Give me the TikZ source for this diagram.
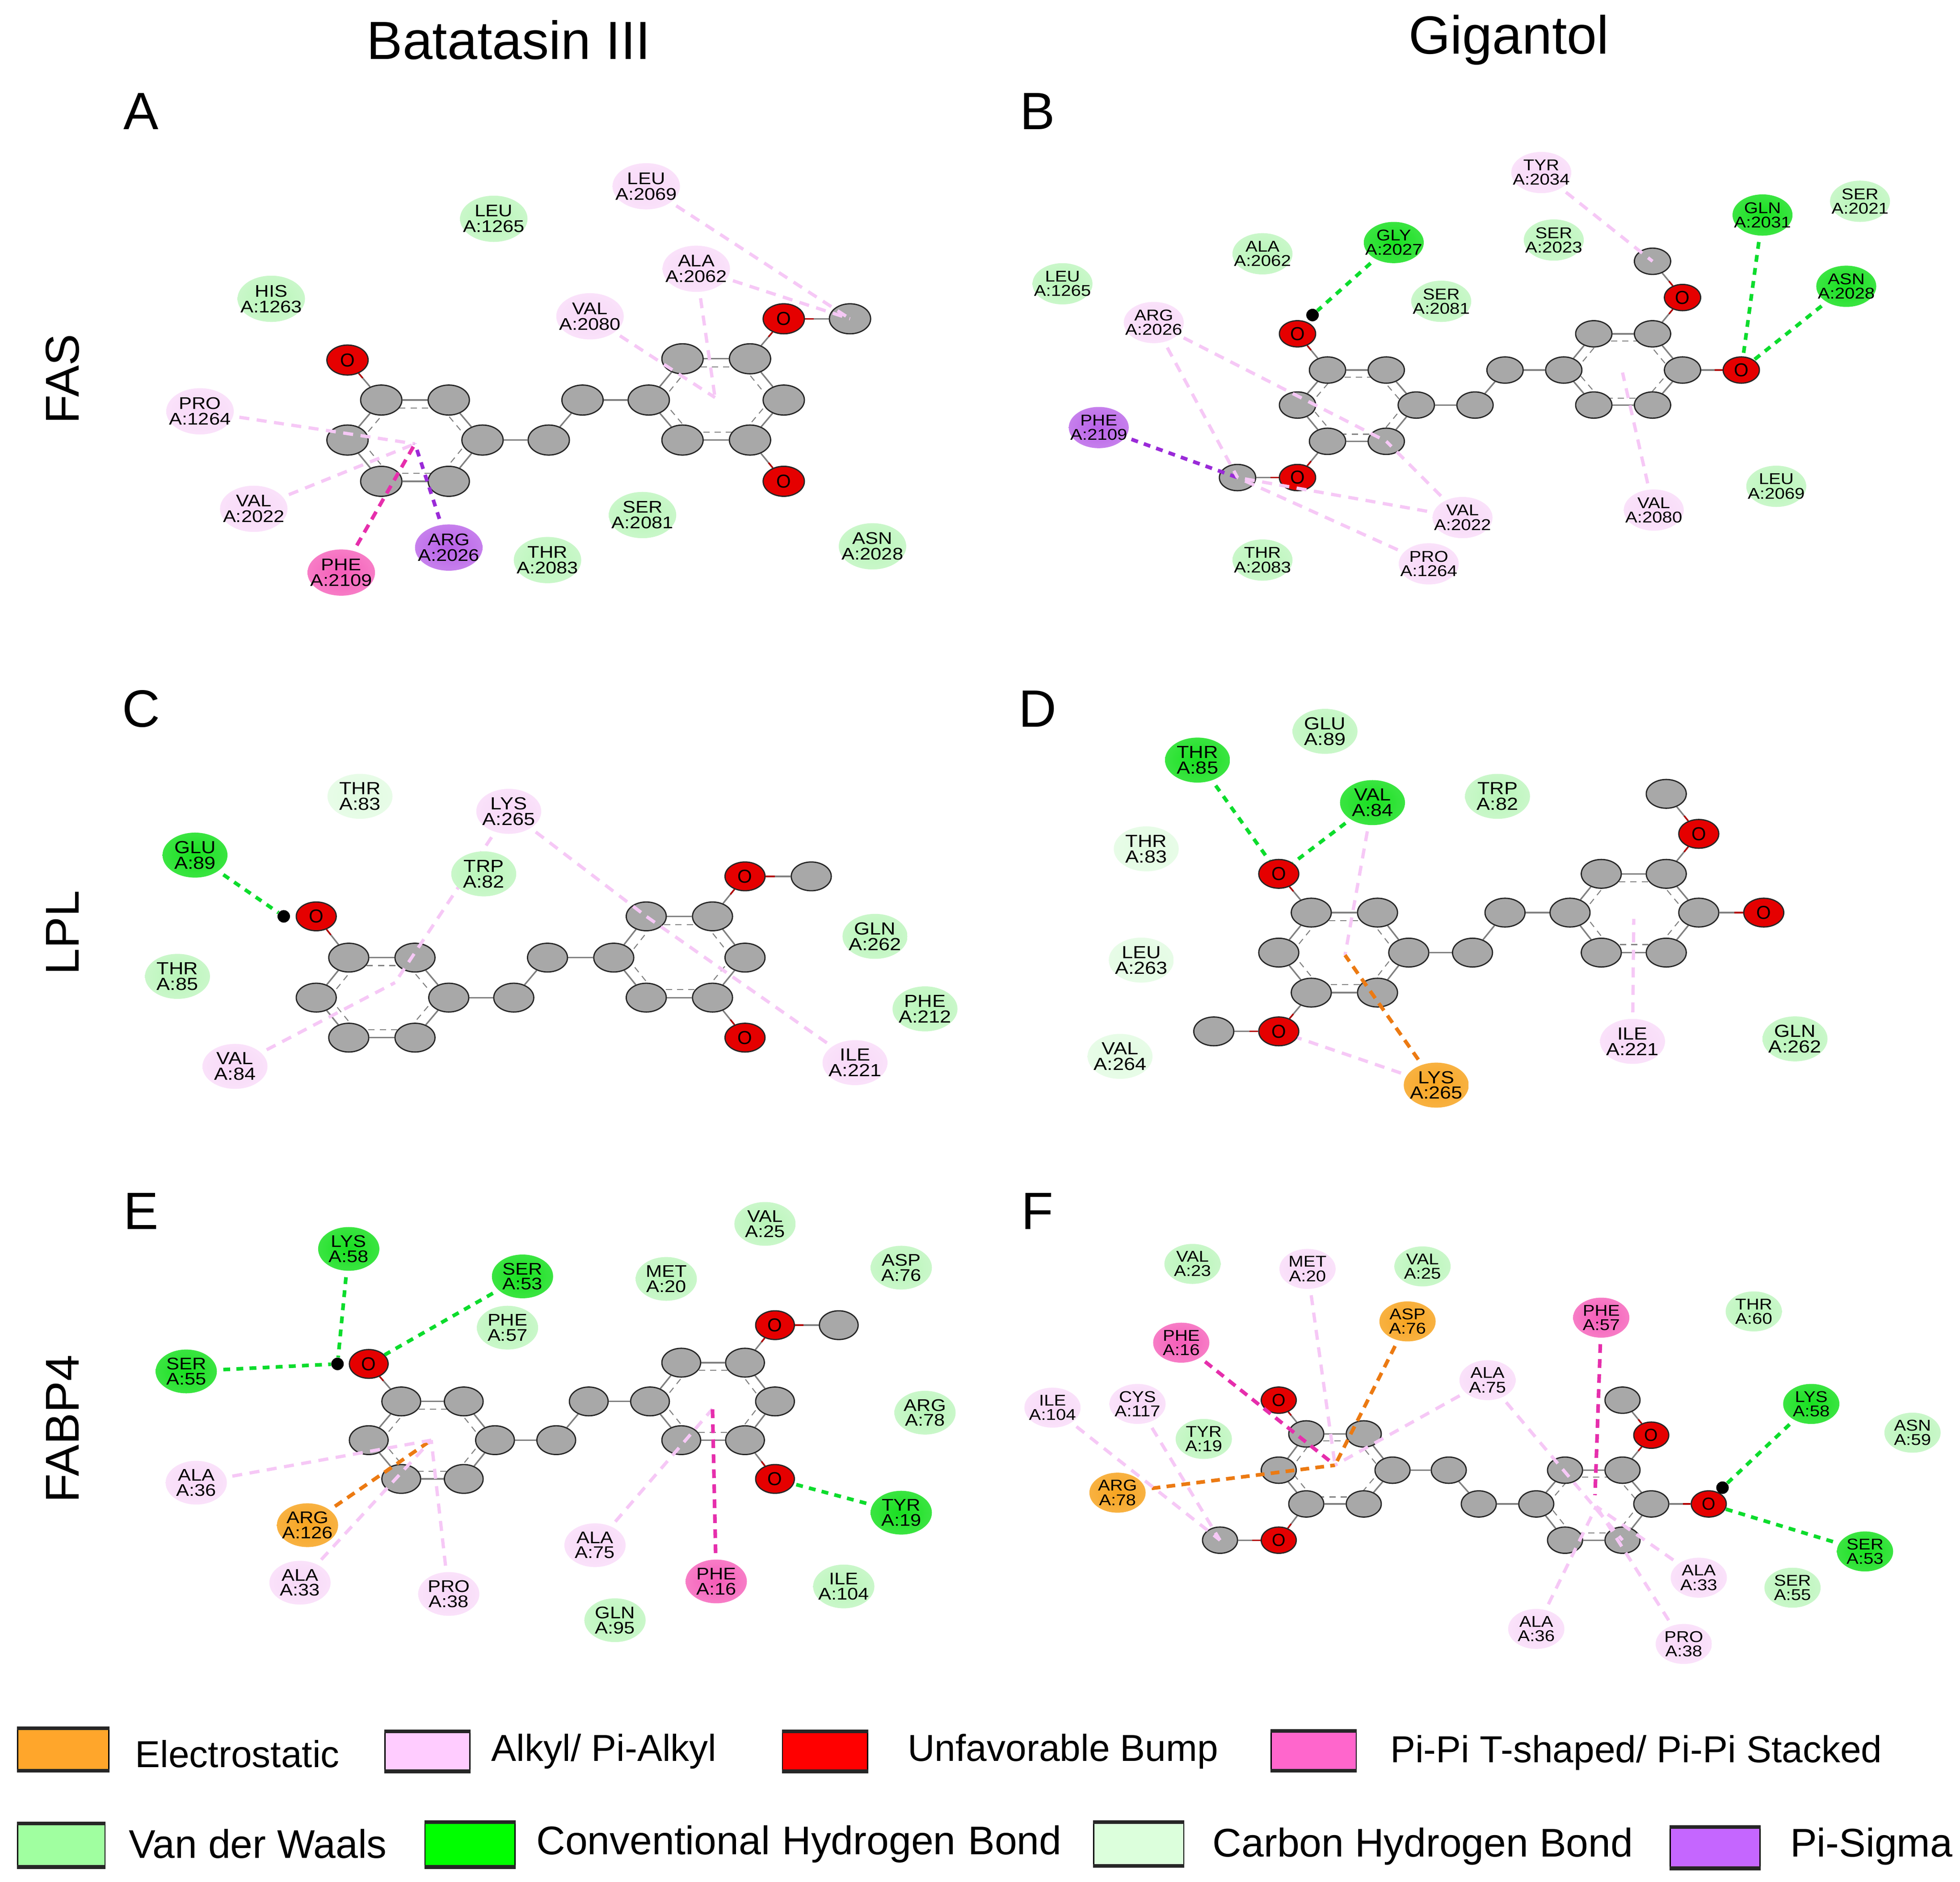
\documentclass[tikz,border=0pt]{standalone}
\usepackage{fontspec}
\setmainfont{Liberation Sans}
\newfontfamily\resf[FakeStretch=1.15]{Liberation Sans}
\usetikzlibrary{calc,shapes.geometric,backgrounds}
\definecolor{cVdw}{HTML}{B8F5B8}
\definecolor{cHb}{HTML}{18E020}
\definecolor{cChb}{HTML}{E0FBE0}
\definecolor{cAlk}{HTML}{F8D8F8}
\definecolor{cPipi}{HTML}{F55CB8}
\definecolor{cSig}{HTML}{B860E8}
\definecolor{cEl}{HTML}{F7A420}
\definecolor{lAlk}{HTML}{F6C8F6}
\definecolor{lHb}{HTML}{0CDC2C}
\definecolor{lSig}{HTML}{9A2AD8}
\definecolor{lPipi}{HTML}{E62EAC}
\definecolor{lEl}{HTML}{EC7A12}
\definecolor{kEl}{HTML}{FFA62B}
\definecolor{kAlk}{HTML}{FFCCFF}
\definecolor{kPipi}{HTML}{FF66CC}
\definecolor{kVdw}{HTML}{A0FFA0}
\definecolor{kChb}{HTML}{DCFFDC}
\definecolor{kSig}{HTML}{C566FF}
\def\aw{32pt}\def\ah{24pt}\def\rw{54pt}\def\rh{38pt}
\def\resfont{\resf\fontsize{13.5}{12.5}\selectfont}
\def\ofont{\fontsize{15}{15}\selectfont}
\tikzset{
 res/.style={ellipse,inner xsep=-16pt,inner ysep=-8pt,minimum width=\rw,minimum height=\rh,align=center,font=\resfont,text=black},
 vdw/.style={res,inner color=cVdw,outer color=cVdw!75!white},
 hb/.style={res,inner color=cHb,outer color=cHb!85!white},
 chb/.style={res,inner color=cChb,outer color=cChb!75!white},
 alk/.style={res,inner color=cAlk,outer color=cAlk!75!white},
 pipi/.style={res,inner color=cPipi,outer color=cPipi!80!white},
 sig/.style={res,inner color=cSig,outer color=cSig!80!white},
 elec/.style={res,inner color=cEl,outer color=cEl!85!white},
 carbon/.style={ellipse,draw=black!85,line width=1pt,fill=black!34,inner sep=0pt,minimum width=\aw,minimum height=\ah},
 oxy/.style={ellipse,draw=black!85,line width=1pt,fill=red!90!black,inner sep=0pt,minimum width=\aw,minimum height=\ah,font=\ofont},
 hdot/.style={circle,fill=black,inner sep=0pt,minimum size=10pt},
 bond/.style={draw=black!50,line width=1.2pt},
 obond/.style={draw=red!70!black,line width=1.2pt},
 inner/.style={draw=black!50,line width=.8pt,dash pattern=on 5pt off 4pt},
 ix/.style={line width=2.6pt,shorten <=5pt},
 ixa/.style={ix,draw=lAlk,dash pattern=on 8pt off 6pt},
 ixh/.style={ix,draw=lHb,line width=2.9pt,dash pattern=on 5.5pt off 5pt},
 ixs/.style={ix,draw=lSig,line width=2.9pt,dash pattern=on 5.5pt off 5pt},
 ixp/.style={ix,draw=lPipi,line width=2.9pt,dash pattern=on 7pt off 5pt},
 ixe/.style={ix,draw=lEl,line width=2.9pt,dash pattern=on 7pt off 5pt},
 title/.style={font=\fontsize{43}{43}\selectfont,inner sep=0pt},
 letter/.style={font=\fontsize{42}{42}\selectfont,inner sep=0pt},
 rowlab/.style={font=\fontsize{38}{38}\selectfont,inner sep=0pt,rotate=90},
 legbox/.style={draw=black,line width=1pt,inner sep=0pt,minimum width=68pt,minimum height=31pt},
 legtxt/.style={font=\fontsize{30}{30}\selectfont,inner sep=0pt,anchor=west},
 legtxtb/.style={font=\fontsize{32}{32}\selectfont,inner sep=0pt,anchor=west},
}
\newcommand\Res[6]{\node[#2] (#1) at (#3,#4) {#5\\#6};}
\newcommand\Oat[3]{\node[oxy] (#1) at (#2,#3) {O};}
\newcommand\Hdot[3]{\node[hdot] (#1) at (#2,#3) {};}
\newcommand\RB[3]{\draw[bond] (#1) -- (#2); \draw[inner] ($(#1)!.2!(#3)$) -- ($(#2)!.2!(#3)$);}
\newcommand\Ring[6]{\coordinate (rc) at ($(#1)!.5!(#4)$);
 \RB{#1}{#2}{rc}\RB{#2}{#3}{rc}\RB{#3}{#4}{rc}\RB{#4}{#5}{rc}\RB{#5}{#6}{rc}\RB{#6}{#1}{rc}}
\newcommand\CO[2]{\draw[bond] (#1) -- (#2); \draw[obond] ($(#1)!.55!(#2)$) -- (#2);}
\newcommand\Atoms[1]{\foreach \nm/\X/\Y in {#1}{\node[carbon] (\nm) at (\X,\Y) {};}}
\begin{document}
\begin{tikzpicture}[x=1pt,y=-1pt]
\useasboundingbox (0,0) rectangle (1568,1505.4);
\begin{scope}[on background layer]
\fill[white] (0,0) rectangle (1568,1505.4);
\end{scope}
\node[title] (t1) at (407,32) {Batatasin III};
\node[title] (t2) at (1207,32) {Gigantol};
\node[letter] (la) at (113,89) {A};
\node[letter] (lb) at (830,89) {B};
\node[letter] (lc) at (113,567) {C};
\node[letter] (ld) at (830,567) {D};
\node[letter] (le) at (113,969) {E};
\node[letter] (lf) at (830,969) {F};
\node[rowlab] (r1) at (50,303) {FAS};
\node[rowlab] (r2) at (50,746) {LPL};
\node[rowlab] (r3) at (50,1143) {FABP4};
% ---------- A
\begin{scope}
\def\aw{33pt}\def\ah{24pt}\def\rw{54pt}\def\rh{37pt}
\Res{A1}{alk}{517}{149}{LEU}{A:2069}
\Res{A2}{vdw}{395}{175}{LEU}{A:1265}
\Res{A3}{vdw}{217}{239}{HIS}{A:1263}
\Res{A4}{alk}{557}{215}{ALA}{A:2062}
\Res{A5}{alk}{472}{253}{VAL}{A:2080}
\Res{A6}{alk}{160}{329}{PRO}{A:1264}
\Res{A7}{alk}{203}{407}{VAL}{A:2022}
\Res{A8}{pipi}{273}{458}{PHE}{A:2109}
\Res{A9}{sig}{359}{438}{ARG}{A:2026}
\Res{A10}{vdw}{438}{448}{THR}{A:2083}
\Res{A11}{vdw}{514}{412}{SER}{A:2081}
\Res{A12}{vdw}{698}{437}{ASN}{A:2028}
\Atoms{aa/305/320,ab/359/320,ac/278/352,ad/386/352,ae/305/385,af/359/385,am/439/352,an/466/320,ag/519/320,ah/546/287,ai/600/287,aj/627/320,ak/600/352,al/546/352,aMe/680/255}
\Oat{aO1}{278}{288}\Oat{aO2}{627}{255}\Oat{aO3}{627}{385}
\coordinate (actr) at (332,355);
\coordinate (actr2) at (572,318);
\begin{scope}[on background layer]
\Ring{aa}{ab}{ad}{af}{ae}{ac}\Ring{ag}{ah}{ai}{aj}{ak}{al}
\draw[bond](ad)--(am);\draw[bond](am)--(an);\draw[bond](an)--(ag);
\CO{aa}{aO1}\CO{ai}{aO2}\CO{aMe}{aO2}\CO{ak}{aO3}
\end{scope}
\draw[ixa](A1)--(aMe.center);\draw[ixa](A4)--(aMe.center);\draw[ixa](A4)--(actr2);\draw[ixa](A5)--(actr2);
\draw[ixa](A6)--(actr);\draw[ixa](A7)--(actr);\draw[ixp](A8)--(actr);\draw[ixs](A9)--(actr);
\end{scope}
% ---------- B
\begin{scope}
\def\aw{29pt}\def\ah{21pt}\def\rw{48pt}\def\rh{33pt}
\def\resfont{\resf\fontsize{12.5}{11.5}\selectfont}
\Res{B1}{alk}{1233}{138}{TYR}{A:2034}
\Res{B2}{hb}{1410}{172}{GLN}{A:2031}
\Res{B3}{vdw}{1488}{161}{SER}{A:2021}
\Res{B4}{hb}{1115}{194}{GLY}{A:2027}
\Res{B5}{vdw}{1243}{192}{SER}{A:2023}
\Res{B6}{vdw}{1010}{203}{ALA}{A:2062}
\Res{B7}{hb}{1477}{229}{ASN}{A:2028}
\Res{B8}{vdw}{850}{227}{LEU}{A:1265}
\Res{B9}{vdw}{1153}{241}{SER}{A:2081}
\Res{B10}{alk}{923}{258}{ARG}{A:2026}
\Res{B11}{sig}{879}{342}{PHE}{A:2109}
\Res{B12}{vdw}{1421}{389}{LEU}{A:2069}
\Res{B13}{alk}{1323}{408}{VAL}{A:2080}
\Res{B14}{alk}{1170}{414}{VAL}{A:2022}
\Res{B15}{alk}{1143}{451}{PRO}{A:1264}
\Res{B16}{vdw}{1010}{448}{THR}{A:2083}
\Atoms{ba/1062/296,bb/1109/296,bc/1038/324,bd/1133/324,be/1062/353,bf/1109/353,bm/1180/324,bn/1204/296,bg/1251/296,bh/1275/267,bi/1322/267,bj/1346/296,bk/1322/324,bl/1275/324,bMe/990/382,bMf/1322/209}
\Oat{bO1}{1038}{267}\Oat{bO2}{1038}{382}\Oat{bO3}{1346}{238}\Oat{bO4}{1393}{296}
\Hdot{bH}{1050}{252}
\coordinate (bctr2) at (1298,298);
\begin{scope}[on background layer]
\Ring{ba}{bb}{bd}{bf}{be}{bc}\Ring{bg}{bh}{bi}{bj}{bk}{bl}
\draw[bond](bd)--(bm);\draw[bond](bm)--(bn);\draw[bond](bn)--(bg);
\CO{ba}{bO1}\CO{be}{bO2}\CO{bMe}{bO2}\CO{bi}{bO3}\CO{bMf}{bO3}\CO{bj}{bO4}
\end{scope}
\draw[ixa](B1)--(bMf.center);\draw[ixh](B2)--(bO4);\draw[ixh](B7)--(bO4);\draw[ixh](B4)--(bH);
\draw[ixs](B11)--(bMe.center);\draw[ixa](B10)--(bMe.center);\draw[ixa](B10)--(bf.center);\draw[ixa](B14)--(bf.center);
\draw[ixa](B15)--(bMe.center);\draw[ixa](B14)--(bMe.center);\draw[ixa](B13)--(bctr2);
\end{scope}
% ---------- C
\begin{scope}
\def\aw{32pt}\def\ah{23pt}\def\rw{52pt}\def\rh{36pt}
\def\resfont{\resf\fontsize{14}{12.5}\selectfont}
\Res{C1}{chb}{288}{637}{THR}{A:83}
\Res{C2}{alk}{407}{649}{LYS}{A:265}
\Res{C3}{hb}{156}{684}{GLU}{A:89}
\Res{C5}{vdw}{700}{749}{GLN}{A:262}
\Res{C6}{vdw}{142}{781}{THR}{A:85}
\Res{C7}{vdw}{740}{807}{PHE}{A:212}
\Res{C8}{alk}{188}{853}{VAL}{A:84}
\Res{C9}{alk}{684}{850}{ILE}{A:221}
\Atoms{ca/279/766,cb/332/766,cc/253/798,cd/359/798,ce/279/830,cf/332/830,cm/411/798,cn/438/766,cg/491/766,ch/517/733,ci/570/733,cj/596/766,ck/570/798,cl/517/798,cMe/649/701}
\Oat{cO1}{253}{733}\Oat{cO2}{596}{701}\Oat{cO3}{596}{830}
\Hdot{cH}{227}{733}
\coordinate (cctr) at (316,786);
\begin{scope}[on background layer]
\Ring{ca}{cb}{cd}{cf}{ce}{cc}\Ring{cg}{ch}{ci}{cj}{ck}{cl}
\draw[bond](cd)--(cm);\draw[bond](cm)--(cn);\draw[bond](cn)--(cg);
\CO{ca}{cO1}\CO{ci}{cO2}\CO{cMe}{cO2}\CO{ck}{cO3}
\end{scope}
\draw[ixh](C3)--(cH);\draw[ixa](C2)--(cctr);\draw[ixa](C8)--(cctr);
\draw[ixa](C2)--(ch.center);\draw[ixa](C9)--(ch.center);
\Res{C4}{vdw}{387}{699}{TRP}{A:82}
\end{scope}
% ---------- D
\begin{scope}
\def\aw{32pt}\def\ah{23pt}\def\rw{52pt}\def\rh{36pt}
\def\resfont{\resf\fontsize{14}{12.5}\selectfont}
\Res{D1}{hb}{958}{608}{THR}{A:85}
\Res{D2}{vdw}{1060}{585}{GLU}{A:89}
\Res{D3}{hb}{1098}{642}{VAL}{A:84}
\Res{D4}{vdw}{1198}{637}{TRP}{A:82}
\Res{D5}{chb}{917}{679}{THR}{A:83}
\Res{D6}{chb}{913}{768}{LEU}{A:263}
\Res{D7}{chb}{896}{845}{VAL}{A:264}
\Res{D8}{elec}{1149}{868}{LYS}{A:265}
\Res{D9}{alk}{1306}{833}{ILE}{A:221}
\Res{D10}{vdw}{1436}{831}{GLN}{A:262}
\Atoms{da/1049/730,db/1102/730,dc/1023/762,dd/1127/762,de/1049/794,df/1102/794,dm/1178/762,dn/1204/730,dg/1256/730,dh/1281/699,di/1333/699,dj/1359/730,dk/1333/762,dl/1281/762,dMe/971/825,dMf/1333/635}
\Oat{dO1}{1023}{699}\Oat{dO2}{1023}{825}\Oat{dO3}{1359}{667}\Oat{dO4}{1411}{730}
\coordinate (dctr) at (1076,764);
\coordinate (dctr2) at (1307,735);
\begin{scope}[on background layer]
\Ring{da}{db}{dd}{df}{de}{dc}\Ring{dg}{dh}{di}{dj}{dk}{dl}
\draw[bond](dd)--(dm);\draw[bond](dm)--(dn);\draw[bond](dn)--(dg);
\CO{da}{dO1}\CO{de}{dO2}\CO{dMe}{dO2}\CO{di}{dO3}\CO{dMf}{dO3}\CO{dj}{dO4}
\end{scope}
\draw[ixh](D1)--(dO1);\draw[ixh](D3)--(dO1);\draw[ixa](D3)--(dctr);
\draw[ixe](D8)--(dctr);\draw[ixa](D8)--(dO2);\draw[ixa](D9)--(dctr2);
\end{scope}
% ---------- E
\begin{scope}
\def\aw{31pt}\def\ah{23pt}\def\rw{49pt}\def\rh{35pt}
\def\resfont{\resf\fontsize{13.5}{12}\selectfont}
\Res{E1}{hb}{279}{999}{LYS}{A:58}
\Res{E2}{hb}{418}{1021}{SER}{A:53}
\Res{E3}{vdw}{612}{979}{VAL}{A:25}
\Res{E4}{vdw}{721}{1014}{ASP}{A:76}
\Res{E5}{vdw}{533}{1023}{MET}{A:20}
\Res{E6}{vdw}{406}{1062}{PHE}{A:57}
\Res{E7}{hb}{149}{1097}{SER}{A:55}
\Res{E8}{vdw}{740}{1130}{ARG}{A:78}
\Res{E9}{alk}{157}{1186}{ALA}{A:36}
\Res{E10}{elec}{246}{1220}{ARG}{A:126}
\Res{E11}{hb}{721}{1210}{TYR}{A:19}
\Res{E12}{alk}{240}{1266}{ALA}{A:33}
\Res{E13}{alk}{359}{1275}{PRO}{A:38}
\Res{E14}{alk}{476}{1236}{ALA}{A:75}
\Res{E15}{pipi}{573}{1265}{PHE}{A:16}
\Res{E16}{vdw}{675}{1269}{ILE}{A:104}
\Res{E17}{vdw}{492}{1296}{GLN}{A:95}
\Atoms{ea/321/1121,eb/371/1121,ec/295/1152,ed/396/1152,ee/321/1183,ef/371/1183,em/445/1152,en/471/1121,eg/520/1121,eh/545/1090,ei/596/1090,ej/620/1121,ek/596/1152,el/545/1152,eMe/671/1060}
\Oat{eO1}{295}{1091}\Oat{eO2}{620}{1060}\Oat{eO3}{620}{1183}
\Hdot{eH}{270}{1091}
\coordinate (ectr) at (345,1152);
\coordinate (ectr2) at (570,1127);
\begin{scope}[on background layer]
\Ring{ea}{eb}{ed}{ef}{ee}{ec}\Ring{eg}{eh}{ei}{ej}{ek}{el}
\draw[bond](ed)--(em);\draw[bond](em)--(en);\draw[bond](en)--(eg);
\CO{ea}{eO1}\CO{ei}{eO2}\CO{eMe}{eO2}\CO{ek}{eO3}
\end{scope}
\draw[ixh](E1)--(eH);\draw[ixh](E7)--(eH);\draw[ixh](E2)--(eO1);\draw[ixh](E11)--(eO3);
\draw[ixe](E10)--(ectr);\draw[ixa](E9)--(ectr);\draw[ixa](E12)--(ectr);\draw[ixa](E13)--(ectr);
\draw[ixa](E14)--(ectr2);\draw[ixp](E15)--(ectr2);
\end{scope}
% ---------- F
\begin{scope}
\def\aw{28pt}\def\ah{21pt}\def\rw{45pt}\def\rh{32pt}
\def\resfont{\resf\fontsize{12.5}{11.5}\selectfont}
\def\ofont{\fontsize{14}{14}\selectfont}
\Res{F1}{vdw}{954}{1011}{VAL}{A:23}
\Res{F2}{alk}{1046}{1015}{MET}{A:20}
\Res{F3}{vdw}{1138}{1013}{VAL}{A:25}
\Res{F4}{elec}{1126}{1057}{ASP}{A:76}
\Res{F5}{pipi}{1281}{1054}{PHE}{A:57}
\Res{F6}{vdw}{1403}{1049}{THR}{A:60}
\Res{F7}{pipi}{945}{1074}{PHE}{A:16}
\Res{F8}{alk}{1190}{1104}{ALA}{A:75}
\Res{F9}{alk}{842}{1126}{ILE}{A:104}
\Res{F10}{alk}{910}{1123}{CYS}{A:117}
\Res{F11}{vdw}{963}{1151}{TYR}{A:19}
\Res{F12}{hb}{1449}{1123}{LYS}{A:58}
\Res{F13}{vdw}{1530}{1146}{ASN}{A:59}
\Res{F14}{elec}{894}{1194}{ARG}{A:78}
\Res{F15}{hb}{1492}{1241}{SER}{A:53}
\Res{F16}{alk}{1359}{1262}{ALA}{A:33}
\Res{F17}{vdw}{1434}{1270}{SER}{A:55}
\Res{F18}{alk}{1229}{1303}{ALA}{A:36}
\Res{F19}{alk}{1347}{1315}{PRO}{A:38}
\Atoms{fa/1045/1147,fb/1091/1147,fc/1023/1176,fd/1114/1176,fe/1045/1203,ff/1091/1203,fm/1159/1176,fn/1183/1203,fg/1229/1203,fh/1252/1176,fi/1298/1176,fj/1321/1203,fk/1298/1232,fl/1252/1232,fMe/976/1232,fMf/1298/1120}
\Oat{fO1}{1023}{1120}\Oat{fO2}{1023}{1232}\Oat{fO3}{1321}{1148}\Oat{fO4}{1367}{1203}
\Hdot{fH}{1378}{1190}
\coordinate (fctr) at (1068,1172);
\coordinate (fctr2) at (1277,1205);
\coordinate (fctr3) at (1276,1196);
\begin{scope}[on background layer]
\Ring{fa}{fb}{fd}{ff}{fe}{fc}\Ring{fg}{fh}{fi}{fj}{fk}{fl}
\draw[bond](fd)--(fm);\draw[bond](fm)--(fn);\draw[bond](fn)--(fg);
\CO{fa}{fO1}\CO{fe}{fO2}\CO{fMe}{fO2}\CO{fi}{fO3}\CO{fMf}{fO3}\CO{fj}{fO4}
\end{scope}
\draw[ixa](F2)--(fctr);\draw[ixp](F7)--(fctr);\draw[ixe](F4)--(fctr);\draw[ixe](F14)--(fctr);\draw[ixa](F8)--(fctr);
\draw[ixp](F5)--(fctr3);\draw[ixa](F8)--(fk.center);\draw[ixa](F16)--(fctr2);\draw[ixa](F18)--(fctr2);\draw[ixa](F19)--(fctr2);
\draw[ixa](F9)--(fMe.center);\draw[ixa](F10)--(fMe.center);
\draw[ixh](F12)--(fH);\draw[ixh](F15)--(fO4);
\end{scope}
% ---------- legend
\node[legbox,fill=kEl,minimum width=73pt,minimum height=33pt] (k1) at (50.5,1399.5) {};
\node[legbox,fill=kAlk] (k2) at (342,1401) {};
\node[legbox,fill=red] (k3) at (660,1401) {};
\node[legbox,fill=kPipi] (k4) at (1051,1400.5) {};
\node[legbox,fill=kVdw,minimum width=70pt,minimum height=34pt] (k5) at (49,1476) {};
\node[legbox,fill=green,minimum width=72pt,minimum height=35pt] (k6) at (376,1475.5) {};
\node[legbox,fill=kChb,minimum width=72pt,minimum height=34pt] (k7) at (911,1475) {};
\node[legbox,fill=kSig,minimum width=72pt,minimum height=32pt] (k8) at (1372,1478) {};
\foreach \k in {k1,k2,k3,k4,k5,k6,k7,k8}{
 \draw[black!85,line width=3pt] (\k.north west) -- (\k.north east);
 \draw[black!85,line width=3pt] (\k.south west) -- (\k.south east);
}
\node[legtxt] (g1) at (108,1403) {Electrostatic};
\node[legtxt] (g2) at (393,1401) {Alkyl/ Pi-Alkyl};
\node[legtxt] (g3) at (726,1401) {Unfavorable Bump};
\node[legtxt] (g4) at (1112,1402) {Pi-Pi T-shaped/ Pi-Pi Stacked};
\node[legtxtb] (g5) at (103,1475) {Van der Waals};
\node[legtxtb] (g6) at (429,1475) {Conventional\hspace{1pt} Hydrogen\hspace{1pt} Bond};
\node[legtxtb] (g7) at (970,1477) {Carbon Hydrogen Bond};
\node[legtxtb] (g8) at (1432,1477) {Pi-Sigma};
\end{tikzpicture}
\end{document}
